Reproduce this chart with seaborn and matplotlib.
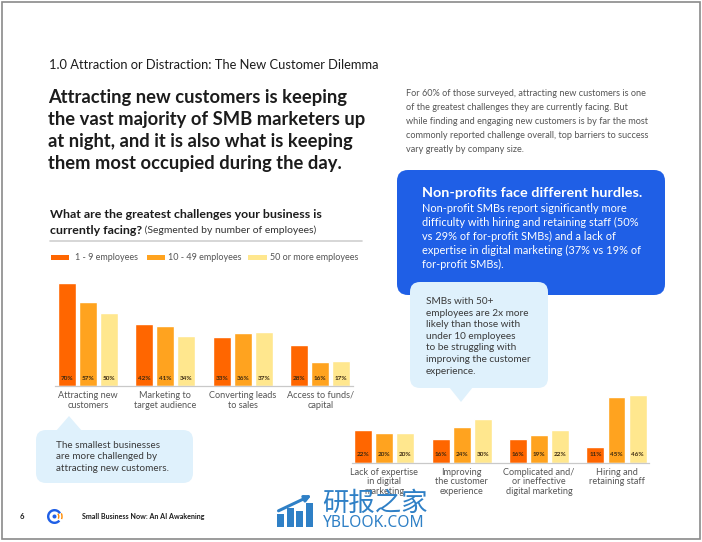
import matplotlib
matplotlib.use("Agg")
import matplotlib.pyplot as plt
import matplotlib.patches as mpatches
import pandas as pd
import seaborn as sns

# --- data ---------------------------------------------------------------
segments = ["1 - 9 employees", "10 - 49 employees", "50 or more employees"]

left_categories = ["Attracting new\ncustomers", "Marketing to\ntarget audience",
                   "Converting leads\nto sales", "Access to funds/\ncapital"]
left_small = [70, 42, 33, 28]
left_mid = [57, 41, 36, 16]
left_large = [50, 34, 37, 17]

right_categories = ["Lack of expertise\nin digital\nmarketing", "Improving\nthe customer\nexperience",
                    "Complicated and/\nor ineffective\ndigital marketing", "Hiring and\nretaining staff"]
right_small = [22, 16, 16, 11]
right_mid = [20, 24, 19, 45]
right_large = [20, 30, 22, 46]

section_title = "1.0 Attraction or Distraction: The New Customer Dilemma"
headline = ["Attracting new customers is keeping",
            "the vast majority of SMB marketers up",
            "at night, and it is also what is keeping",
            "them most occupied during the day."]
intro = ["For 60% of those surveyed, attracting new customers is one",
         "of the greatest challenges they are currently facing. But",
         "while finding and engaging new customers is by far the most",
         "commonly reported challenge overall, top barriers to success",
         "vary greatly by company size."]
box_title = "Non-profits face different hurdles."
box_body = ["Non-profit SMBs report significantly more",
            "difficulty with hiring and retaining staff (50%",
            "vs 29% of for-profit SMBs) and a lack of",
            "expertise in digital marketing (37% vs 19% of",
            "for-profit SMBs)."]
bubble_right = ["SMBs with 50+", "employees are 2x more", "likely than those with",
                "under 10 employees", "to be struggling with",
                "improving the customer", "experience."]
bubble_left = ["The smallest businesses", "are more challenged by",
               "attracting new customers."]
question_bold = ["What are the greatest challenges your business is", "currently facing?"]
question_note = " (Segmented by number of employees)"
footer = "Small Business Now: An AI Awakening"

# --- style --------------------------------------------------------------
W, H = 702, 542
PX_PER_PCT = 1.47
GROUP_STEP = 77.4
palette = ["#FF6600", "#FFA31F", "#FFE78E"]
BLUE = "#1F5FE6"
BUBBLE = "#DFF1FC"
GRAY = "#555555"
DARK = "#1C1C1C"

sns.set_theme(style="white")
plt.rcParams["font.family"] = ["Lato", "DejaVu Sans"]


def to_long(categories, series):
    rows = []
    for seg, vals in zip(segments, series):
        for cat, v in zip(categories, vals):
            rows.append({"challenge": cat, "segment": seg, "pct": v})
    return pd.DataFrame(rows)


def add_chart(fig, df, categories, center0_px, baseline_px):
    """Grouped bars placed so that 1 % = PX_PER_PCT pixels."""
    height_px = 115
    left_px = center0_px - 0.42 * GROUP_STEP
    width_px = 3.84 * GROUP_STEP
    ax = fig.add_axes([left_px / W, 1 - baseline_px / H, width_px / W, height_px / H])
    ax.patch.set_alpha(0)
    sns.barplot(data=df, x="challenge", y="pct", hue="segment", order=categories,
                hue_order=segments, palette=palette, saturation=1, width=0.814,
                gap=0.143, errorbar=None, legend=False, ax=ax)
    ax.set_xlim(-0.42, 3.42)
    ax.set_ylim(0, height_px / PX_PER_PCT)
    for cont in ax.containers:
        for bar in cont:
            ax.text(bar.get_x() + bar.get_width() / 2, 7.7 / PX_PER_PCT,
                    f"{bar.get_height():.0f}%", ha="center", va="center",
                    fontsize=4.6, fontweight="bold", color="#3A2810")
    ax.set_xticks(range(len(categories)))
    ax.set_xticklabels(categories, fontsize=6.6, color=GRAY, linespacing=1.1)
    ax.tick_params(axis="x", length=0, pad=3.5)
    ax.set_yticks([])
    ax.set_xlabel("")
    ax.set_ylabel("")
    for side in ["top", "left", "right"]:
        ax.spines[side].set_visible(False)
    ax.spines["bottom"].set_color("#C9C9C9")
    ax.spines["bottom"].set_linewidth(0.9)
    return ax


def put_lines(ax, x, y0, pitch, lines, **kw):
    for i, line in enumerate(lines):
        ax.text(x, y0 + i * pitch, line, va="center", **kw)


def main():
    fig = plt.figure(figsize=(W / 100, H / 100), dpi=100)
    fig.patch.set_facecolor("white")

    bg = fig.add_axes([0, 0, 1, 1])
    bg.set_xlim(0, W)
    bg.set_ylim(H, 0)
    bg.axis("off")

    # page frame
    bg.add_patch(mpatches.Rectangle((1.5, 1.5), 698.5, 537.5, fill=False,
                                    edgecolor="#8A8A8A", linewidth=1.2))

    # left column texts
    bg.text(49, 65, section_title, va="center", fontsize=9.3, color=DARK)
    put_lines(bg, 48, 97, 22.3, headline, fontsize=13.2, fontweight="bold", color=DARK)

    bg.text(50, 215, question_bold[0], va="center", fontsize=8.9,
            fontweight="bold", color=DARK)
    t = bg.text(50, 230, question_bold[1], va="center", fontsize=8.9,
                fontweight="bold", color=DARK)
    fig.canvas.draw()
    x_end = t.get_window_extent().x1
    bg.text(x_end, 230, question_note, va="center", fontsize=7.5, color="#333333")
    bg.plot([50, 362], [241, 241], color="#CFCFCF", linewidth=1.2)

    # legend
    legend_x = [(50.5, 75), (146.5, 168.5), (248, 270)]
    for (px, tx), seg, col in zip(legend_x, segments, palette):
        bg.add_patch(mpatches.Rectangle((px, 255), 18.5, 4.5, color=col, linewidth=0))
        bg.text(tx, 257.3, seg, va="center", fontsize=6.5, color=GRAY)

    # right column texts
    put_lines(bg, 406, 94, 13.9, intro, fontsize=6.55, color=GRAY)

    bg.add_patch(mpatches.FancyBboxPatch((397, 170), 268, 125,
                                         boxstyle="round,pad=0,rounding_size=11",
                                         facecolor=BLUE, edgecolor="none"))
    bg.text(422, 193, box_title, va="center", fontsize=10.4, fontweight="bold", color="white")
    put_lines(bg, 422, 208.5, 14, box_body, fontsize=7.9, color="white")

    # right bubble
    bg.add_patch(mpatches.FancyBboxPatch((410, 282), 138, 106,
                                         boxstyle="round,pad=0,rounding_size=10",
                                         facecolor=BUBBLE, edgecolor="none"))
    bg.add_patch(mpatches.Polygon([(449, 387), (473, 387), (461, 402)],
                                  closed=True, facecolor=BUBBLE, edgecolor="none"))
    put_lines(bg, 426, 301.5, 11.6, bubble_right, fontsize=7.2, color="#3A3A3A")

    # left bubble
    bg.add_patch(mpatches.FancyBboxPatch((36, 430), 157, 53,
                                         boxstyle="round,pad=0,rounding_size=10",
                                         facecolor=BUBBLE, edgecolor="none"))
    bg.add_patch(mpatches.Polygon([(56, 431), (82, 431), (69, 416)],
                                  closed=True, facecolor=BUBBLE, edgecolor="none"))
    put_lines(bg, 56, 445, 11.7, bubble_left, fontsize=7.1, color="#3A3A3A")

    # charts
    add_chart(fig, to_long(left_categories, [left_small, left_mid, left_large]),
              left_categories, 88.0, 386.0)
    add_chart(fig, to_long(right_categories, [right_small, right_mid, right_large]),
              right_categories, 384.3, 462.7)

    # footer
    top = fig.add_axes([0, 0, 1, 1], zorder=10)
    top.set_xlim(0, W)
    top.set_ylim(H, 0)
    top.axis("off")
    top.patch.set_alpha(0)
    top.text(22, 516.5, "6", va="center", ha="center", fontsize=5.5,
             fontweight="bold", color=DARK)
    top.add_patch(mpatches.Wedge((54.5, 516.5), 7.5, 40, 330, width=2.4,
                                 facecolor="#1F5FE6", edgecolor="none"))
    top.add_patch(mpatches.Circle((54.5, 516.5), 2.0, facecolor="#1F5FE6", edgecolor="none"))
    top.add_patch(mpatches.Wedge((54.5, 516.5), 5.0, -40, 30, width=1.4,
                                 facecolor="#FF8A00", edgecolor="none"))
    top.add_patch(mpatches.Wedge((54.5, 516.5), 8.2, -25, 20, width=1.4,
                                 facecolor="#FF8A00", edgecolor="none"))
    top.text(81.5, 516.5, footer, va="center", fontsize=5.15, fontweight="bold", color=DARK)

    # watermark
    mark = "#2F80C6"
    for bx, btop in zip([277, 286.5, 296, 305.5], [514, 508, 511, 503]):
        top.add_patch(mpatches.Rectangle((bx, btop), 7, 527 - btop,
                                         facecolor=mark, edgecolor="none"))
    top.annotate("", xy=(314, 494), xytext=(276, 512),
                 arrowprops=dict(arrowstyle="-|>", color=mark, lw=2.2,
                                 mutation_scale=9))
    top.text(322, 503, "研报之家", va="center", fontsize=19, color=mark,
             fontweight="medium", family=["Noto Sans CJK SC", "DejaVu Sans"])
    top.text(323, 523, "YBLOOK.COM", va="center", fontsize=11.2, color=mark,
             family=["Noto Sans", "DejaVu Sans"])

    fig.savefig("out.png", dpi=100, facecolor="white")
    plt.close(fig)


if __name__ == "__main__":
    main()
